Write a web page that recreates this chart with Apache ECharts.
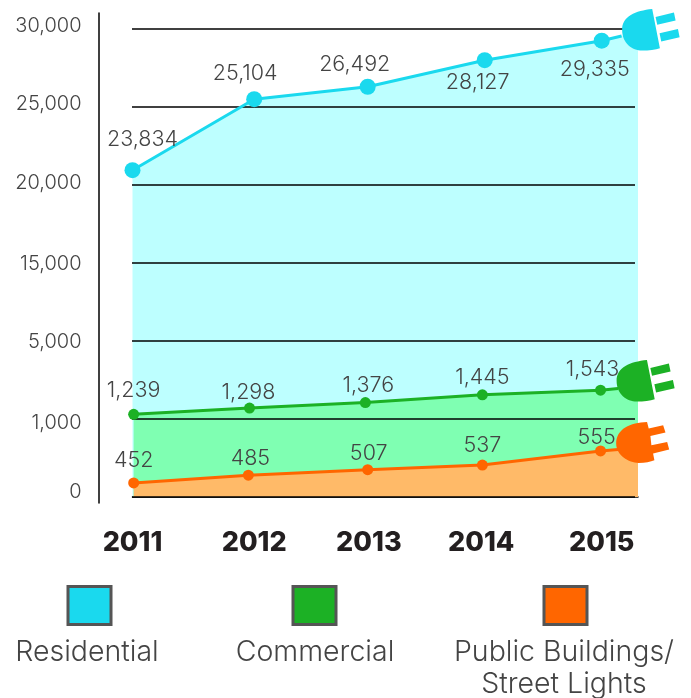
<!DOCTYPE html>
<html><head><meta charset="utf-8">
<style>html,body{margin:0;padding:0;background:#fff}#c{width:691px;height:698px}</style>
<script src="https://cdn.jsdelivr.net/npm/echarts@6/dist/echarts.min.js"></script>
</head><body><div id="c"></div>
<script>
// Tick labels; the source axis is not linear: each gridline band is one axis unit.
const yTickLabels = ['0','1,000','5,000','15,000','20,000','25,000','30,000'];
const yLabelPlaces = [0.06,0.95,1.99,2.99,4.02,5.04,6.04];
const years = [2011,2012,2013,2014,2015];
const yearPlaces = [2011,2012.04,2013.02,2013.98,2015.01];
const names = ['Residential','Commercial','Public Buildings/\nStreet Lights'];

// Printed values
const residentialValues = [23834,25104,26492,28127,29335];
const commercialValues = [1239,1298,1376,1445,1543];
const publicValues = [452,485,507,537,555];

// Heights as drawn, in axis bands, and x places, in years
const residentialY = [4.19,5.10,5.26,5.60,5.85];
const commercialY = [1.06,1.14,1.21,1.31,1.37];
const publicY = [0.18,0.28,0.35,0.41,0.59];
const residentialX = [2011,2012.04,2013.01,2014.01,2015.01];
const commercialX = [2011.01,2012.0,2012.99,2013.99,2015.0];
const publicX = [2011.01,2011.99,2013.01,2013.99,2015.0];
// Where each line runs into its plug and where the fill stops
const residentialEnd = [[2015.18,5.91],[2015.32,5.95]];
const commercialEnd = [[2015.15,1.39],[2015.32,1.41]];
const publicEnd = [[2015.15,0.61],[2015.32,0.63]];
const plugPlaces = [[2015.43,5.99],[2015.385,1.49],[2015.36,0.7]];

// Label offsets in pixels
const residentialOffsets = [[10,-31],[-9,-26],[-13,-22],[-7,22],[-7,29]];
const commercialOffsets = [[0,-24],[-1,-16],[3,-17],[0,-17],[-8,-21]];
const publicOffsets = [[0,-22],[2,-17],[1,-16],[0,-19],[-4,-13]];

const colors = ['#1AD9EE','#1CB125','#FF6600'];
const fills = ['#BDFFFF','#7FFFB2','#FFBA68'];
const textColor = '#444';
const fontFamily = 'Inter, "Noto Sans", sans-serif';

const plugA = 'path://M275 28 C225 33 185 50 185 90 C185 130 215 152 245 152 C265 152 285 150 298 145 Z M285 52 L340 38 L345 62 L290 75 Z M297 100 L352 88 L357 112 L302 125 Z';
const plugB = 'path://M290 230 C240 232 198 250 198 295 C198 330 235 353 265 353 C285 353 300 350 312 345 L308 325 L356 313 L350 290 L303 300 L300 272 L345 262 L338 240 L295 250 Z';

const defs = [
  {v:residentialValues,y:residentialY,x:residentialX,end:residentialEnd,off:residentialOffsets,size:16,width:3},
  {v:commercialValues,y:commercialY,x:commercialX,end:commercialEnd,off:commercialOffsets,size:11,width:3},
  {v:publicValues,y:publicY,x:publicX,end:publicEnd,off:publicOffsets,size:11,width:3}
];
const series = [];
defs.forEach((d,i)=>{
  const pts = d.x.map((x,k)=>[x,d.y[k]]);
  series.push({type:'line',name:names[i].split('\n')[0]+' fill',xAxisIndex:1,yAxisIndex:1,z:1,silent:true,symbol:'none',
    lineStyle:{width:0},areaStyle:{color:fills[i],opacity:1},data:pts.concat(d.end)});
});
defs.forEach((d,i)=>{
  const data = d.x.map((x,k)=>({value:[x,d.y[k]],
    label:{show:true,position:'inside',offset:d.off[k],formatter:d.v[k].toLocaleString('en-US'),
      color:textColor,fontFamily,fontWeight:300,fontSize:21.5}}));
  data.push({value:d.end[0],symbol:'none',label:{show:false}});
  series.push({type:'line',name:names[i].split('\n')[0],xAxisIndex:1,yAxisIndex:1,z:5,symbol:'circle',symbolSize:d.size,
    showSymbol:true,showAllSymbols:true,clip:false,itemStyle:{color:colors[i],opacity:1},lineStyle:{color:colors[i],width:d.width},
    data});
});
series.push({type:'scatter',name:'Residential plug',xAxisIndex:1,yAxisIndex:1,z:6,clip:false,symbol:plugA,symbolSize:[57.5,41.5],
  itemStyle:{color:colors[0],opacity:1},data:[plugPlaces[0]]});
series.push({type:'scatter',name:'Commercial plug',xAxisIndex:1,yAxisIndex:1,z:6,clip:false,symbol:plugA,symbolSize:[58,41.5],
  itemStyle:{color:colors[1],opacity:1},data:[plugPlaces[1]]});
series.push({type:'scatter',name:'Public plug',xAxisIndex:1,yAxisIndex:1,z:6,clip:false,symbol:plugB,symbolSize:[53,41],
  itemStyle:{color:colors[2],opacity:1},data:[plugPlaces[2]]});

const legendCentres = [89,314,565];
const graphic = [];
names.forEach((n,i)=>{
  graphic.push({type:'rect',left:legendCentres[i]-22.5,top:585,shape:{width:43,height:38},
    style:{fill:colors[i],stroke:'#555',lineWidth:3}});
  graphic.push({type:'text',x:[87,315,564][i],y:636,
    style:{text:n,fill:textColor,font:'300 28.5px '+fontFamily,textAlign:'center',lineHeight:32}});
});

const chart = echarts.init(document.getElementById('c'),null,{renderer:'canvas'});
chart.setOption({
  animation:false,
  backgroundColor:'#fff',
  grid:[
    {left:98.5,width:10,top:13,height:490},
    {left:132.5,width:505.5,top:29,height:468},
    {left:132,width:503,top:29,height:468}
  ],
  xAxis:[
    {gridIndex:0,type:'value',show:false,min:0,max:1},
    {gridIndex:1,type:'value',min:2011,max:2015.32,splitLine:{show:false},
      axisLine:{show:true,onZero:false,lineStyle:{color:'#000',width:1.5}},axisTick:{show:false},
      axisLabel:{show:true,customValues:yearPlaces,formatter:v=>String(Math.round(v)),margin:32,
        color:'#231F20',fontFamily,fontWeight:800,fontSize:27}},
    {gridIndex:2,type:'value',show:false,min:0,max:1}
  ],
  yAxis:[
    {gridIndex:0,type:'value',min:-0.077,max:6.205,splitLine:{show:false},
      axisLine:{show:true,onZero:false,lineStyle:{color:'#000',width:1.5}},axisTick:{show:false},
      axisLabel:{show:true,customValues:yLabelPlaces,formatter:v=>yTickLabels[Math.round(v)],margin:17,
        color:textColor,fontFamily,fontWeight:300,fontSize:20}},
    {gridIndex:1,type:'value',min:0,max:6,interval:1,show:false},
    {gridIndex:2,type:'value',min:0,max:6,interval:1,z:3,
      axisLine:{show:false},axisTick:{show:false},axisLabel:{show:false},
      splitLine:{show:true,lineStyle:{color:'#000',width:1.5}}}
  ],
  series,
  graphic
});
</script></body></html>
